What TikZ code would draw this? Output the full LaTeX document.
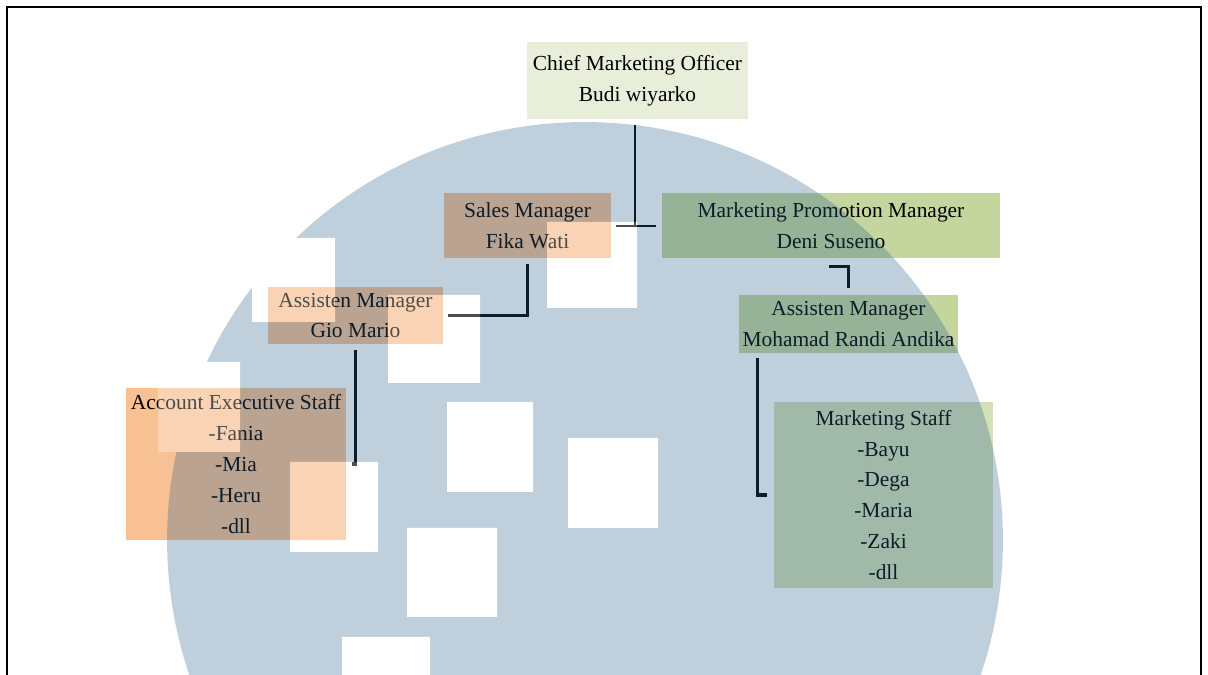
\documentclass[tikz,border=0pt]{standalone}
\usepackage{fontspec}
\setmainfont{Liberation Serif}
\definecolor{peach}{RGB}{247,193,147}
\definecolor{sage}{RGB}{196,214,158}
\definecolor{palesage}{RGB}{212,225,182}
\definecolor{cream}{RGB}{233,238,218}
\definecolor{slate}{RGB}{45,95,138}
\begin{document}
\begin{tikzpicture}[x=0.02cm,y=-0.02cm,
		box/.style={inner sep=0pt,align=center,text=black,
			font=\fontsize{12.2}{17.6}\selectfont},
		link/.style={line width=2pt},
		thinlink/.style={line width=0.6pt},
	]
		\useasboundingbox (0,0) rectangle (1208,675);
		\clip (0,0) rectangle (1208,675);
		
		% page frame
		\draw[line width=1.2pt] (7,680) -- (7,7) -- (1201,7) -- (1201,680);
		
		% boxes
		\node[box,fill=cream,minimum width=4.42cm,minimum height=1.54cm] (cmo) at (637.5,80.5) {Chief Marketing Officer\\Budi wiyarko};
		\node[box,fill=peach,minimum width=3.34cm,minimum height=1.3cm] (sales) at (527.5,225.5) {Sales Manager\\Fika Wati};
		\node[box,fill=sage,minimum width=6.76cm,minimum height=1.3cm] (promo) at (831,225.5) {Marketing Promotion Manager\\Deni Suseno};
		\node[box,fill=peach,minimum width=3.5cm,minimum height=1.14cm] (asstL) at (355.5,315.5) {Assisten Manager\\Gio Mario};
		\node[box,fill=sage,minimum width=4.38cm,minimum height=1.16cm] (asstR) at (848.5,324) {Assisten Manager\\Mohamad Randi Andika};
		\node[box,fill=peach,minimum width=4.4cm,minimum height=3.04cm] (aeStaff) at (236,464) {Account Executive Staff\\-Fania\\-Mia\\-Heru\\-dll};
		\node[box,fill=palesage,minimum width=4.38cm,minimum height=3.72cm] (mkStaff) at (883.5,495) {Marketing Staff\\-Bayu\\-Dega\\-Maria\\-Zaki\\-dll};
		
		% connectors
		\coordinate (tee) at (635,226);
		\coordinate (teeL) at (616,226);
		\coordinate (teeR) at (656,226);
		\draw[thinlink] (cmo.south -| tee) ++(0,6) -- (tee);
		\draw[thinlink] (teeL) -- (teeR);
		\draw[link] ([yshift=-0.12cm]sales.south) |- ([xshift=0.1cm]asstL.east);
		\draw[link] ([yshift=-0.12cm]asstL.south) |- ([xshift=0.12cm]aeStaff.east);
		\draw[link] ([shift={(-0.04cm,-0.16cm)}]promo.south) -| ([yshift=0.14cm]asstR.north);
		\draw[link] ([shift={(0.38cm,-0.1cm)}]asstR.south west) |- ([xshift=-0.14cm]mkStaff.west);
		
		% logo in the background, laid over everything
		\begin{scope}[transparency group,opacity=0.3]
			\fill[slate] (585,540) circle[radius=8.36cm];
			\foreach \xa/\ya/\xb/\yb in {252/238/335/322,388/295/480/383,447/402/533/492,
				290/462/378/552,407/528/497/617,568/438/658/528,547/222/637/308,
				342/637/430/700,158/362/240/452}{
				\fill[white] (\xa,\ya) rectangle (\xb,\yb);
			}
		\end{scope}
\end{tikzpicture}
\end{document}
